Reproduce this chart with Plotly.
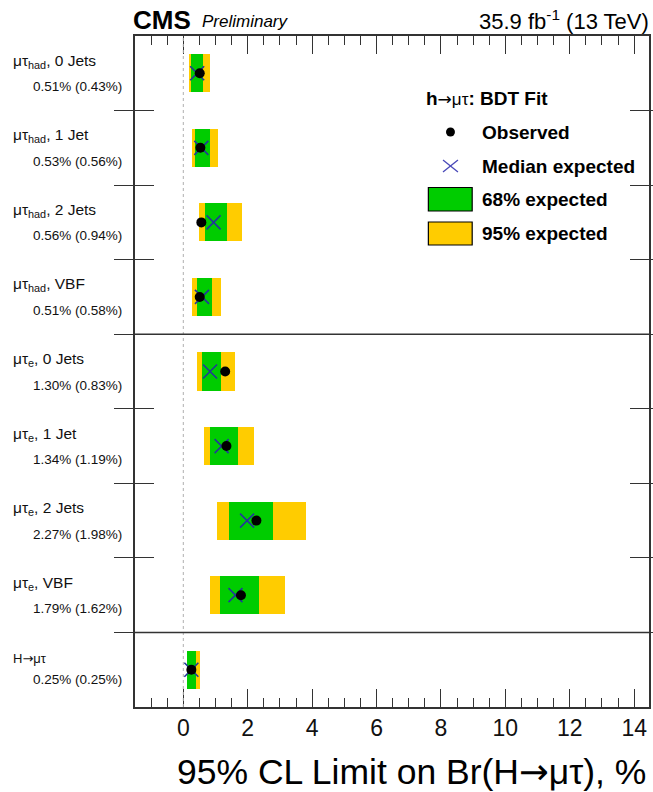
import plotly.graph_objects as go

# Channels, top to bottom
ARROW = "<span style='font-family:DejaVu Sans'>→</span>"
channels = [
    "μτ<sub>had</sub>, 0 Jets",
    "μτ<sub>had</sub>, 1 Jet",
    "μτ<sub>had</sub>, 2 Jets",
    "μτ<sub>had</sub>, VBF",
    "μτ<sub>e</sub>, 0 Jets",
    "μτ<sub>e</sub>, 1 Jet",
    "μτ<sub>e</sub>, 2 Jets",
    "μτ<sub>e</sub>, VBF",
    "H" + ARROW + "μτ",
]
observed = [0.51, 0.53, 0.56, 0.51, 1.30, 1.34, 2.27, 1.79, 0.25]
expected = [0.43, 0.56, 0.94, 0.58, 0.83, 1.19, 1.98, 1.62, 0.25]
band68_lo = [0.24, 0.37, 0.68, 0.42, 0.59, 0.84, 1.41, 1.14, 0.13]
band68_hi = [0.61, 0.84, 1.36, 0.89, 1.18, 1.70, 2.80, 2.34, 0.39]
band95_lo = [0.18, 0.28, 0.49, 0.28, 0.42, 0.63, 1.05, 0.84, 0.10]
band95_hi = [0.84, 1.09, 1.82, 1.18, 1.60, 2.20, 3.82, 3.15, 0.51]
x_ticks = [0, 2, 4, 6, 8, 10, 12, 14]

FONT = "Liberation Sans, Arial, Helvetica, sans-serif"
GREEN = "rgb(0,204,0)"
YELLOW = "rgb(255,204,0)"
XBLUE = "#22379a"
AXIS = "#333"

n = len(channels)
ypos = [n - 0.5 - i for i in range(n)]

# page geometry (pixels)
W, H = 653, 792
L, R, T, B = 135, 651, 36, 707
PW, PH = R - L, B - T
X_RANGE = [-1.5, 14.46]


def px(xp):
    return (xp - L) / PW


def py(yp):
    return (B - yp) / PH


fig = go.Figure()

fig.add_trace(go.Bar(
    y=ypos, base=band95_lo, x=[h - l for l, h in zip(band95_lo, band95_hi)],
    orientation="h", width=0.51, marker=dict(color=YELLOW, line=dict(width=0)),
    showlegend=False, hoverinfo="skip",
))
fig.add_trace(go.Bar(
    y=ypos, base=band68_lo, x=[h - l for l, h in zip(band68_lo, band68_hi)],
    orientation="h", width=0.51, marker=dict(color=GREEN, line=dict(width=0)),
    showlegend=False, hoverinfo="skip",
))
fig.add_trace(go.Scatter(
    x=expected, y=ypos, mode="markers",
    marker=dict(symbol="x-thin", size=14, line=dict(width=1.6, color=XBLUE)),
    showlegend=False,
))
fig.add_trace(go.Scatter(
    x=observed, y=ypos, mode="markers",
    marker=dict(symbol="circle", size=10, color="black"),
    showlegend=False,
))
# companion trace on the top axis (same values, drawn invisibly)
fig.add_trace(go.Scatter(
    x=observed, y=ypos, xaxis="x2", mode="markers",
    marker=dict(size=1, opacity=0), showlegend=False, hoverinfo="skip",
))

shapes = [
    dict(type="line", xref="x", yref="paper", x0=0, x1=0, y0=0, y1=1,
         line=dict(color="#b0b0b0", width=1, dash="dot")),
    dict(type="line", xref="paper", yref="y", x0=0, x1=1, y0=1, y1=1,
         line=dict(color=AXIS, width=1.5)),
    dict(type="line", xref="paper", yref="y", x0=0, x1=1, y0=5, y1=5,
         line=dict(color=AXIS, width=1.5)),
]

annotations = []
# channel labels with observed (expected) limits
for i, (name, o, e, y) in enumerate(zip(channels, observed, expected, ypos)):
    last = i == n - 1
    annotations.append(dict(
        xref="paper", yref="y", x=px(11), y=y, yshift=11 if last else 12,
        text=name, showarrow=False, xanchor="left", yanchor="middle",
        font=dict(family=FONT, size=13 if last else 15.5, color="#111"),
    ))
    annotations.append(dict(
        xref="paper", yref="y", x=px(31), y=y, yshift=-9.5 if last else -13.5,
        text=f"{o:.2f}% ({e:.2f}%)", showarrow=False, xanchor="left", yanchor="middle",
        font=dict(family=FONT, size=13.5, color="#111"),
    ))

# header
annotations += [
    dict(xref="paper", yref="paper", x=px(131), y=py(20), text="<b>CMS</b>",
         showarrow=False, xanchor="left", yanchor="middle",
         font=dict(family=FONT, size=26, color="black")),
    dict(xref="paper", yref="paper", x=px(200), y=py(22), text="<i>Preliminary</i>",
         showarrow=False, xanchor="left", yanchor="middle",
         font=dict(family=FONT, size=17, color="black")),
    dict(xref="paper", yref="paper", x=px(653), y=py(20),
         text="35.9 fb<sup>-1</sup> (13 TeV)",
         showarrow=False, xanchor="right", yanchor="middle",
         font=dict(family=FONT, size=22, color="black")),
    dict(xref="paper", yref="paper", x=px(650), y=py(771),
         text="95% CL Limit on Br(H" + ARROW + "μτ), %",
         showarrow=False, xanchor="right", yanchor="middle",
         font=dict(family=FONT, size=35.5, color="black")),
]

# legend block
annotations.append(dict(
    xref="paper", yref="paper", x=px(425), y=py(98),
    text="<b>h</b><span style='font-size:17px;font-family:DejaVu Sans'>→</span>"
         "<span style='font-size:17px'>μτ</span><b>: BDT Fit</b>",
    showarrow=False, xanchor="left", yanchor="middle",
    font=dict(family=FONT, size=19, color="black"),
))
for label, yc in [("Observed", 132), ("Median expected", 166),
                  ("68% expected", 200), ("95% expected", 233)]:
    annotations.append(dict(
        xref="paper", yref="paper", x=px(481), y=py(yc), text=f"<b>{label}</b>",
        showarrow=False, xanchor="left", yanchor="middle",
        font=dict(family=FONT, size=19, color="black"),
    ))

cx = 451.7
shapes += [
    dict(type="circle", xref="paper", yref="paper",
         x0=px(cx - 4.5), x1=px(cx + 4.5), y0=py(132 + 4.5), y1=py(132 - 4.5),
         fillcolor="black", line=dict(color="black", width=0)),
    dict(type="line", xref="paper", yref="paper",
         x0=px(cx - 7.5), x1=px(cx + 7.5), y0=py(166 + 6), y1=py(166 - 6),
         line=dict(color="#4848b8", width=1.3)),
    dict(type="line", xref="paper", yref="paper",
         x0=px(cx - 7.5), x1=px(cx + 7.5), y0=py(166 - 6), y1=py(166 + 6),
         line=dict(color="#4848b8", width=1.3)),
    dict(type="rect", xref="paper", yref="paper",
         x0=px(429.5), x1=px(473.5), y0=py(211), y1=py(187.5),
         fillcolor=GREEN, line=dict(color="black", width=1.2)),
    dict(type="rect", xref="paper", yref="paper",
         x0=px(429.5), x1=px(473.5), y0=py(245), y1=py(222),
         fillcolor=YELLOW, line=dict(color="black", width=1.2)),
]

fig.update_layout(
    width=W, height=H,
    margin=dict(l=L, r=W - R, t=T, b=H - B),
    paper_bgcolor="white", plot_bgcolor="white",
    barmode="overlay", bargap=0,
    showlegend=False,
    shapes=shapes, annotations=annotations,
    xaxis=dict(
        range=X_RANGE, tickvals=x_ticks, ticks="inside", ticklen=18, tickwidth=1.3,
        tickcolor=AXIS,
        minor=dict(dtick=0.5, ticks="inside", ticklen=9, tickwidth=1.1, tickcolor=AXIS),
        showline=True, linecolor=AXIS, linewidth=1.5, mirror="allticks",
        showgrid=False, zeroline=False,
        tickfont=dict(family=FONT, size=23, color="#111"),
    ),
    # top edge: same scale, ticks only
    xaxis2=dict(
        range=X_RANGE, overlaying="x", side="top", anchor="y", tickvals=x_ticks,
        ticks="inside", ticklen=18, tickwidth=1.3, tickcolor=AXIS,
        minor=dict(dtick=0.5, ticks="inside", ticklen=9, tickwidth=1.1, tickcolor=AXIS),
        showticklabels=False, showgrid=False, zeroline=False,
    ),
    yaxis=dict(
        range=[0, 9], tickvals=list(range(1, 9)), ticks="inside", ticklen=19,
        tickwidth=1.3, tickcolor=AXIS, showticklabels=False,
        showline=True, linecolor=AXIS, linewidth=1.5, mirror="allticks",
        showgrid=False, zeroline=False,
    ),
)

fig.write_html("out.html")
